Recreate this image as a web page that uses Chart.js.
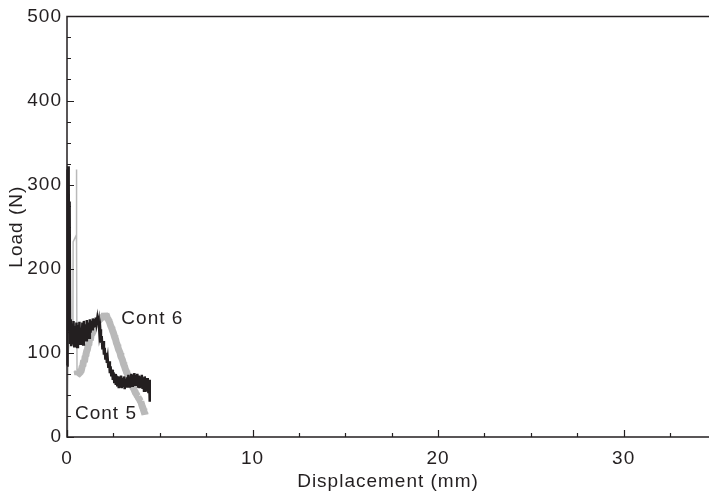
<!DOCTYPE html>
<html><head><meta charset="utf-8">
<script src="https://cdn.jsdelivr.net/npm/chart.js@4.4.0/dist/chart.umd.min.js"></script>
<style>html,body{margin:0;padding:0;background:#fff}#wrap{width:709px;height:494px;position:relative}</style>
</head><body><div id="wrap"><canvas id="c" width="709" height="494"></canvas></div>
<script>
// ---- data ----
const xTickValues = [0, 10, 20, 30];
const yTickValues = [0, 100, 200, 300, 400, 500];

const cont5X = [0.00,0.02,0.04,0.06,0.08,0.10,0.12,0.14,0.17,0.20,0.23,
  0.27,0.31,0.35,0.39,0.43,0.47,0.51,0.55,0.59,0.63,0.67,0.71,0.75,0.79,0.83,0.87,0.91,0.95,0.99,1.03,
  1.07,1.11,1.15,1.19,1.23,1.27,1.31,1.35,1.39,1.43,1.47,1.51,1.55,1.59,1.63,1.67,
  1.71,1.75,1.79,1.83,1.87,1.91,1.95,1.99,2.03,2.07,2.11,2.15,2.19,2.23,2.27,2.31,2.35,2.39,2.43,2.47,
  2.51,2.55,2.59,2.63,2.67,2.71,2.75,2.79,2.83,2.87,2.91,2.95,2.99,3.03,3.07,3.11,3.15,3.19,3.23,3.27,
  3.31,3.35,3.39,3.43,3.47,3.51,3.55,3.59,3.63,3.67,3.71,3.75,3.79,3.83,3.87,3.91,3.95,3.99,4.03,4.07,
  4.11,4.15,4.19,4.23,4.27,4.31,4.35,4.39,4.43,4.46];
const cont5Y = [85,318,120,322,200,305,150,280,112,140,108,
  135,110,138,108,132,112,136,107,133,114,137,111,130,113,136,110,138,118,134,115,
  139,120,136,118,140,124,138,128,141,130,140,132,142,135,141,133,
  138,122,128,112,120,104,114,98,106,92,100,88,94,82,90,76,84,72,80,68,
  77,64,75,62,73,60,72,58,70,60,73,58,70,61,72,57,69,60,71,62,
  74,60,72,63,75,61,74,64,76,62,74,63,75,60,73,58,72,60,74,57,
  71,55,72,56,70,54,70,52,68,42];

const cont6SpikeX = [0.00,0.03,0.06,0.12,0.30,0.32,0.33,0.50,0.51,0.52,0.54];
const cont6SpikeY = [0,40,100,112,118,150,232,240,318,230,80];

const cont6X = [0.54,0.58,0.62,0.66,0.70,0.74,0.78,0.82,0.86,0.90,0.94,0.98,1.02,1.06,1.10,1.14,1.18,1.22,1.26,1.30,
  1.34,1.38,1.42,1.46,1.50,1.54,1.58,1.62,1.66,1.70,1.74,1.78,1.82,1.86,1.90,1.94,1.98,2.02,2.06,2.10,
  2.14,2.18,2.22,2.26,2.30,2.34,2.38,2.42,2.46,2.50,2.54,2.58,2.62,2.66,2.70,2.74,2.78,2.82,2.86,2.90,
  2.94,2.98,3.02,3.06,3.10,3.14,3.18,3.22,3.26,3.30,3.34,3.38,3.42,3.46,3.50,3.54,3.58,3.62,3.66,3.70,
  3.74,3.78,3.82,3.86,3.90,3.94,3.98,4.02,4.06,4.10,4.14,4.17,4.20];
const cont6Y = [79,74,78,75,81,77,80,84,86,91,89,96,98,102,104,109,111,116,115,121,
  124,123,128,131,132,136,134,139,140,137,142,139,144,140,143,146,142,147,143,146,
  144,141,140,138,136,133,131,129,126,124,121,118,116,112,110,107,104,102,100,96,
  94,92,89,86,84,81,79,76,75,71,70,67,66,63,62,59,58,56,54,52,
  51,49,48,46,45,43,42,39,36,34,31,29,27];

const seriesLabels = [
  {text: 'Cont 6', x: 2.93, y: 141},
  {text: 'Cont 5', x: 0.43, y: 28}
];

// ---- chart ----
const INK = '#231f20';
const GRAY = '#b9b9b9';
const pts = (xs, ys) => xs.map((v, i) => ({x: v, y: ys[i]}));

Chart.defaults.font.family = '"Liberation Sans", Arial, Helvetica, sans-serif';
Chart.defaults.font.size = 19;
Chart.defaults.color = INK;

const framePlugin = {
  id: 'frame',
  beforeDraw(chart) { chart.ctx.letterSpacing = '1px'; },
  afterDatasetsDraw(chart) {
    const {ctx, chartArea: a, scales: {x, y}} = chart;
    ctx.save();
    ctx.strokeStyle = INK;
    ctx.lineWidth = 1.5;
    ctx.beginPath();
    ctx.moveTo(a.right, a.bottom); ctx.lineTo(a.left, a.bottom);
    ctx.lineTo(a.left, a.top); ctx.lineTo(a.right, a.top);
    ctx.stroke();
    ctx.lineWidth = 1.2;
    ctx.beginPath();
    for (let v = 0; v <= y.max + 0.01; v += 25) {
      const py = Math.round(y.getPixelForValue(v)) + 0.5;
      const len = (v % 100 === 0) ? 7 : 4;
      ctx.moveTo(a.left, py); ctx.lineTo(a.left + len, py);
    }
    for (let v = 0; v <= x.max; v += 2.5) {
      const px = Math.round(x.getPixelForValue(v)) + 0.5;
      const len = (v % 10 === 0) ? 7 : 4;
      ctx.moveTo(px, a.bottom); ctx.lineTo(px, a.bottom - len);
    }
    ctx.stroke();
    ctx.fillStyle = INK;
    ctx.font = '19px "Liberation Sans", Arial, sans-serif';
    ctx.textAlign = 'left';
    ctx.textBaseline = 'middle';
    seriesLabels.forEach(l => ctx.fillText(l.text, x.getPixelForValue(l.x), y.getPixelForValue(l.y)));
    ctx.restore();
  }
};

new Chart(document.getElementById('c'), {
  type: 'scatter',
  data: {
    datasets: [
      {label: 'Cont 5', data: pts(cont5X, cont5Y), showLine: true, borderColor: INK, borderWidth: 2.5,
        pointRadius: 0, tension: 0, order: 0, clip: 6, borderJoinStyle: 'miter'},
      {label: 'Cont 6 spike', data: pts(cont6SpikeX, cont6SpikeY), showLine: true, borderColor: GRAY, borderWidth: 1.5,
        pointRadius: 0, tension: 0, order: 2, clip: 6},
      {label: 'Cont 6', data: pts(cont6X, cont6Y), showLine: true, borderColor: GRAY, borderWidth: 7,
        pointRadius: 0, tension: 0, order: 1, clip: 6, borderCapStyle: 'butt', borderJoinStyle: 'bevel'}
    ]
  },
  options: {
    responsive: false,
    animation: false,
    devicePixelRatio: 1,
    layout: {padding: {top: 14, right: 0, left: 0, bottom: 0}},
    plugins: {legend: {display: false}, tooltip: {enabled: false}},
    scales: {
      x: {
        type: 'linear', min: 0, max: 34.6,
        grid: {display: false, drawTicks: false},
        border: {display: false},
        ticks: {padding: 10, maxRotation: 0, autoSkip: false, color: INK},
        afterBuildTicks: s => { s.ticks = xTickValues.map(v => ({value: v})); },
        afterFit: s => { s.height = 57; },
        title: {display: true, text: 'Displacement (mm)', color: INK, padding: {top: 0, bottom: 1}}
      },
      y: {
        type: 'linear', min: 0, max: 500,
        grid: {display: false, drawTicks: false},
        border: {display: false},
        ticks: {padding: 5, color: INK},
        afterBuildTicks: s => { s.ticks = yTickValues.map(v => ({value: v})); },
        afterFit: s => { s.width = 67; },
        title: {display: true, text: 'Load (N)', color: INK, padding: {top: 5, bottom: 0}}
      }
    }
  },
  plugins: [framePlugin]
});
</script>
</body></html>
